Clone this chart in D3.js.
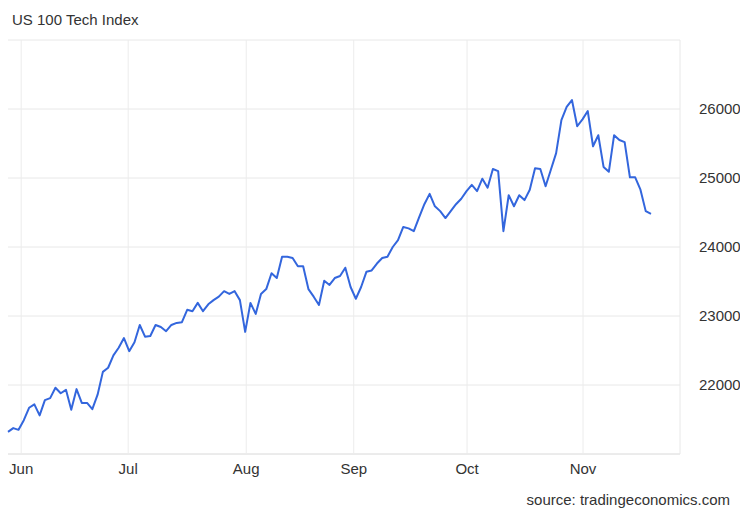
<!DOCTYPE html><html><head><meta charset="utf-8"><script src="https://cdn.jsdelivr.net/npm/d3@7"></script>
<style>body{margin:0;background:#fff;font-family:"Liberation Sans",Arial,sans-serif}</style></head><body><svg id="c" width="740" height="513"></svg>
<script>
const values=[21320,21375,21350,21490,21670,21720,21560,21780,21810,21960,21880,21930,21640,21940,21740,21740,21650,21860,22190,22250,22430,22540,22680,22490,22620,22870,22700,22710,22870,22840,22780,22870,22900,22910,23090,23070,23190,23070,23170,23230,23280,23360,23320,23360,23230,22770,23190,23030,23320,23390,23620,23550,23860,23860,23840,23720,23720,23390,23280,23160,23510,23450,23550,23580,23700,23420,23250,23420,23640,23660,23760,23840,23860,24000,24100,24290,24270,24230,24430,24620,24770,24590,24520,24420,24520,24620,24700,24810,24900,24810,24990,24860,25130,25100,24230,24750,24590,24750,24680,24830,25140,25130,24880,25120,25360,25840,26030,26130,25750,25850,25970,25460,25620,25160,25090,25620,25550,25520,25010,25010,24830,24520,24480];
const monthLabels=["Jun","Jul","Aug","Sep","Oct","Nov"];
const monthPos=[2.5,22.8,45.2,65.6,87.1,109.1];
const yTicks=[22000,23000,24000,25000,26000];
const svg=d3.select("#c");
const x=d3.scaleLinear().domain([0,values.length-1]).range([8,651]);
const y=d3.scaleLinear().domain([21000,27000]).range([454,40]);
const g=svg.append("g");
[21000,22000,23000,24000,25000,26000,27000].forEach(v=>g.append("line").attr("x1",8).attr("x2",680).attr("y1",y(v)).attr("y2",y(v)).attr("stroke",v==21000?"#d8d8d8":"#e8e8e8"));
monthPos.forEach(p=>g.append("line").attr("x1",x(p)).attr("x2",x(p)).attr("y1",40).attr("y2",454).attr("stroke","#ececec"));
g.append("line").attr("x1",680).attr("x2",680).attr("y1",40).attr("y2",454).attr("stroke","#e8e8e8");
yTicks.forEach(v=>svg.append("text").attr("x",699).attr("y",y(v)+5).attr("font-size",15).attr("fill","#333").text(v));
monthLabels.forEach((m,i)=>svg.append("text").attr("x",x(monthPos[i])).attr("y",474).attr("text-anchor","middle").attr("font-size",15).attr("fill","#333").text(m));
svg.append("path").datum(values).attr("fill","none").attr("stroke","#3366dd").attr("stroke-width",2).attr("stroke-linejoin","round")
 .attr("d",d3.line().x((d,i)=>x(i)).y(d=>y(d)));
svg.append("text").attr("x",12).attr("y",25).attr("font-size",15).attr("fill","#333").text("US 100 Tech Index");
svg.append("text").attr("x",730).attr("y",505).attr("text-anchor","end").attr("font-size",15).attr("fill","#333").text("source: tradingeconomics.com");
</script></body></html>
